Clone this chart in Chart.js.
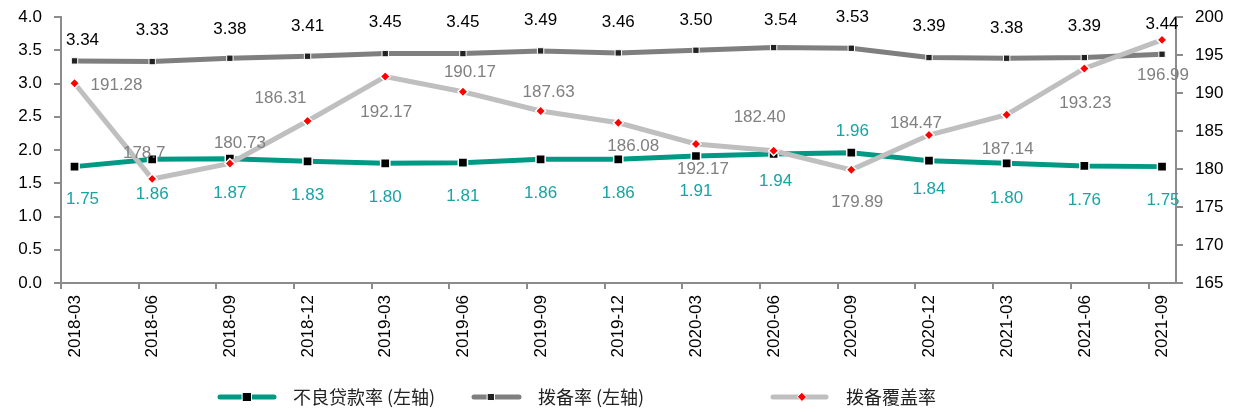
<!DOCTYPE html>
<html>
<head>
<meta charset="utf-8">
<script src="https://cdn.jsdelivr.net/npm/chart.js@4.4.0/dist/chart.umd.min.js"></script>
<style>
  html, body { margin: 0; padding: 0; background: #fff; }
</style>
</head>
<body>
<canvas id="myChart" width="1236" height="412"></canvas>
<script>
// data
const quarters = ['2018-03', '2018-06', '2018-09', '2018-12', '2019-03', '2019-06', '2019-09', '2019-12',
    '2020-03', '2020-06', '2020-09', '2020-12', '2021-03', '2021-06', '2021-09'];
const nplRatio = [1.75, 1.86, 1.87, 1.83, 1.80, 1.81, 1.86, 1.86, 1.91, 1.94, 1.96, 1.84, 1.80, 1.76, 1.75];
const provisionRatio = [3.34, 3.33, 3.38, 3.41, 3.45, 3.45, 3.49, 3.46, 3.50, 3.54, 3.53, 3.39, 3.38, 3.39, 3.44];
const coverageRatio = [191.28, 178.7, 180.73, 186.31, 192.17, 190.17, 187.63, 186.08, 183.29, 182.40, 179.89, 184.47, 187.14, 193.23, 196.99];
// the printed labels (the 2020-03 one reads 192.17 in the source)
const coverageText = ['191.28', '178.7', '180.73', '186.31', '192.17', '190.17', '187.63', '186.08', '192.17', '182.40', '179.89', '184.47', '187.14', '193.23', '196.99'];
const leftAxis = { min: 0, max: 4, step: 0.5 };
const rightAxis = { min: 165, max: 200, step: 5 };
const legendNames = ['不良贷款率 (左轴)', '拨备率 (左轴)', '拨备覆盖率'];

const TEAL = '#009A84';
const TEAL_TEXT = '#1AA3A3';
const GREY = '#7F7F7F';
const LIGHT = '#BFBFBF';
const AXIS = '#8C8C8C';
const FONT = '"Liberation Sans", Arial, sans-serif';
const X_PAD = 0.174;

// where each value label sits relative to its point (dx, dy)
const provOffsets = [[8, -21], [0, -31], [0, -29], [0, -30], [0, -31], [0, -31], [0, -31], [0, -31], [0, -30], [7, -27], [1, -31], [0, -31], [0, -30], [0, -31], [0, -30]];
const nplOffsets = [[8, 33], [0, 35], [0, 35], [0, 34], [0, 34], [0, 34], [0, 34], [0, 34], [0, 35], [2, 27], [1, -21], [0, 29], [0, 35], [0, 34], [1, 34]];
const covOffsets = [[42, 2], [-8, -26], [10, -20], [-27, -23], [1, 36], [7, -19], [8, -19], [15, 24], [7, 25], [-14, -33], [6, 32], [-13, -12], [1, 35], [1, 35], [1, 35]];

const toPoints = arr => arr.map((v, i) => ({ x: i, y: v }));

const valueLabels = {
    id: 'valueLabels',
    afterDatasetsDraw(chart) {
        const ctx = chart.ctx;
        ctx.save();
        ctx.font = '17px ' + FONT;
        ctx.textAlign = 'center';
        ctx.textBaseline = 'middle';
        chart.data.datasets.forEach((ds, di) => {
            const meta = chart.getDatasetMeta(di);
            ctx.fillStyle = ds.labelColor;
            meta.data.forEach((pt, i) => {
                const off = ds.labelOffsets[i];
                ctx.fillText(ds.labelTexts[i], pt.x + off[0], pt.y + off[1]);
            });
        });
        ctx.restore();
    }
};

const drawMarker = (ctx, style, x, y, size, fill) => {
    ctx.fillStyle = fill;
    ctx.strokeStyle = '#fff';
    ctx.lineWidth = 1;
    ctx.beginPath();
    if (style === 'rectRot') {
        ctx.moveTo(x, y - size);
        ctx.lineTo(x + size, y);
        ctx.lineTo(x, y + size);
        ctx.lineTo(x - size, y);
        ctx.closePath();
    } else {
        ctx.rect(x - size, y - size, size * 2, size * 2);
    }
    ctx.fill();
    ctx.stroke();
};

const bottomLegend = {
    id: 'bottomLegend',
    afterDraw(chart) {
        const ctx = chart.ctx;
        const y = 397;
        const items = [
            { x0: 220, x1: 274, mx: 247, color: TEAL, style: 'rect', size: 4.5, fill: '#000', tx: 293 },
            { x0: 474, x1: 519, mx: 491, color: GREY, style: 'rect', size: 3.5, fill: '#222', tx: 538 },
            { x0: 773, x1: 826, mx: 802, color: LIGHT, style: 'rectRot', size: 4.5, fill: '#FF0000', tx: 846 }
        ];
        ctx.save();
        items.forEach((it, i) => {
            ctx.strokeStyle = it.color;
            ctx.lineWidth = 5;
            ctx.lineCap = 'round';
            ctx.beginPath();
            ctx.moveTo(it.x0, y);
            ctx.lineTo(it.x1, y);
            ctx.stroke();
            drawMarker(ctx, it.style, it.mx, y, it.size, it.fill);
            ctx.fillStyle = '#222';
            ctx.font = '18px "Noto Sans CJK SC", sans-serif';
            ctx.textAlign = 'left';
            ctx.textBaseline = 'middle';
            ctx.fillText(legendNames[i], it.tx, y);
        });
        ctx.restore();
    }
};

// fixed axis sizes so the plot area lands where the reference has it
const fixWidth = w => scale => {
    scale.width = w;
    scale.paddingTop = 0;
    scale.paddingBottom = 0;
};

const ctx = document.getElementById('myChart').getContext('2d');
const myChart = new Chart(ctx, {
    type: 'line',
    data: {
        datasets: [{
            label: legendNames[2],
            data: toPoints(coverageRatio),
            yAxisID: 'y1',
            order: 0,
            borderColor: LIGHT,
            borderWidth: 5,
            pointStyle: 'rectRot',
            pointRadius: 5,
            pointBackgroundColor: '#FF0000',
            pointBorderColor: '#fff',
            pointBorderWidth: 1.5,
            labelTexts: coverageText,
            labelOffsets: covOffsets,
            labelColor: '#808080'
        }, {
            label: legendNames[1],
            data: toPoints(provisionRatio),
            yAxisID: 'y',
            order: 1,
            borderColor: GREY,
            borderWidth: 5,
            pointStyle: 'rect',
            pointRadius: 4.5,
            pointBackgroundColor: '#222',
            pointBorderColor: '#fff',
            pointBorderWidth: 1,
            labelTexts: provisionRatio.map(v => v.toFixed(2)),
            labelOffsets: provOffsets,
            labelColor: '#000'
        }, {
            label: legendNames[0],
            data: toPoints(nplRatio),
            yAxisID: 'y',
            order: 2,
            borderColor: TEAL,
            borderWidth: 5,
            pointStyle: 'rect',
            pointRadius: 6.5,
            pointBackgroundColor: '#000',
            pointBorderColor: '#fff',
            pointBorderWidth: 1.5,
            labelTexts: nplRatio.map(v => v.toFixed(2)),
            labelOffsets: nplOffsets,
            labelColor: TEAL_TEXT
        }]
    },
    options: {
        responsive: false,
        animation: false,
        layout: { padding: { top: 17, left: 0, right: 0, bottom: 0 } },
        plugins: {
            legend: { display: false },
            tooltip: { enabled: false }
        },
        scales: {
            x: {
                type: 'linear',
                min: -X_PAD,
                max: quarters.length - 1 + 0.18,
                afterBuildTicks: scale => {
                    scale.ticks = quarters.map((q, i) => ({ value: i - X_PAD }));
                },
                afterFit: scale => {
                    scale.height = 129;
                    scale.paddingLeft = 0;
                    scale.paddingRight = 0;
                },
                ticks: {
                    autoSkip: false,
                    minRotation: 90,
                    maxRotation: 90,
                    labelOffset: 14,
                    padding: 6,
                    color: '#000',
                    font: { size: 17, family: FONT },
                    callback: (v, i) => quarters[i]
                },
                grid: { drawOnChartArea: false, color: AXIS, lineWidth: 2, tickLength: 6 },
                border: { color: AXIS, width: 2 }
            },
            y: {
                position: 'left',
                min: leftAxis.min,
                max: leftAxis.max,
                afterFit: fixWidth(61),
                ticks: {
                    stepSize: leftAxis.step,
                    padding: 12,
                    color: '#000',
                    font: { size: 17, family: FONT },
                    callback: v => v.toFixed(1)
                },
                grid: { drawOnChartArea: false, color: AXIS, lineWidth: 2, tickLength: 7 },
                border: { color: AXIS, width: 2 }
            },
            y1: {
                position: 'right',
                min: rightAxis.min,
                max: rightAxis.max,
                afterFit: fixWidth(60),
                ticks: {
                    stepSize: rightAxis.step,
                    padding: 12,
                    color: '#000',
                    font: { size: 17, family: FONT }
                },
                grid: { drawOnChartArea: false, color: AXIS, lineWidth: 2, tickLength: 7 },
                border: { color: AXIS, width: 2 }
            }
        }
    },
    plugins: [valueLabels, bottomLegend]
});
</script>
</body>
</html>
